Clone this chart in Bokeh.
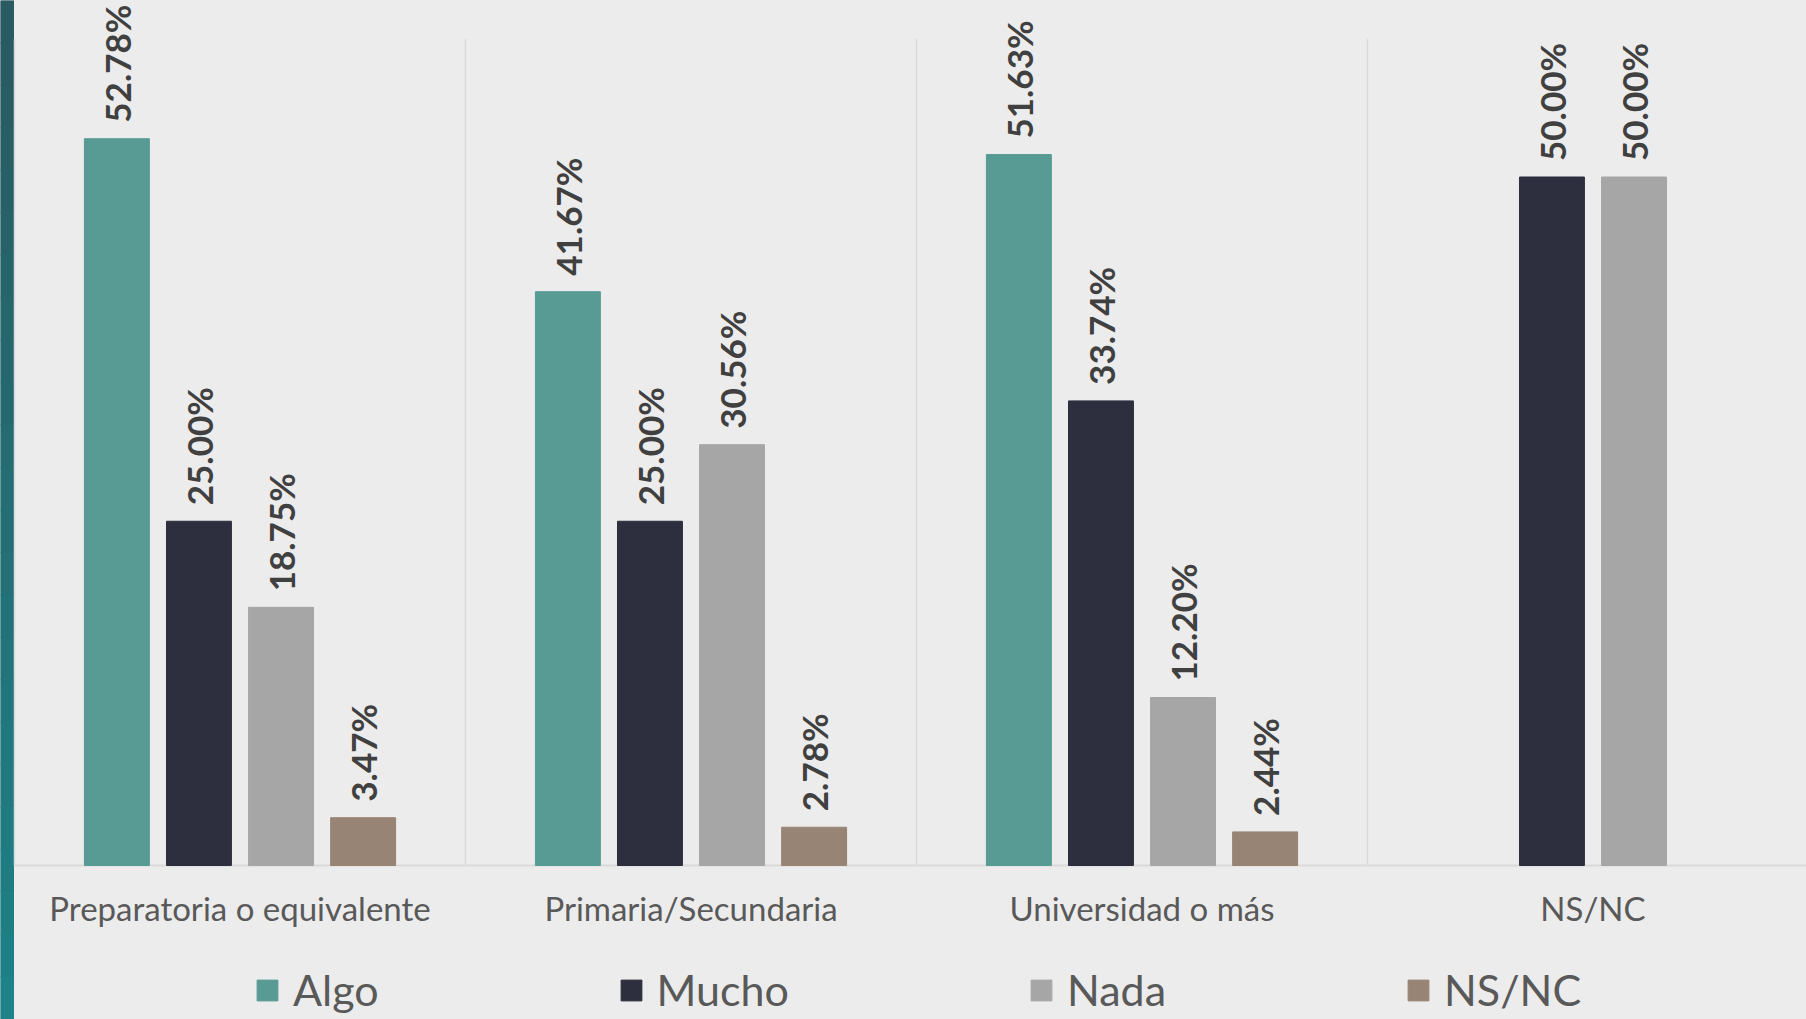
import numpy as np
from bokeh.plotting import figure
from bokeh.models import ColumnDataSource, FixedTicker, Range1d, GlobalInlineStyleSheet
from bokeh.core.properties import value
from bokeh.embed import file_html
from bokeh.resources import INLINE

# ---- data ----
categories = ["Preparatoria o equivalente", "Primaria/Secundaria", "Universidad o más", "NS/NC"]
series = ["Algo", "Mucho", "Nada", "NS/NC"]
algo = [52.78, 41.67, 51.63, np.nan]
mucho = [25.00, 25.00, 33.74, 50.00]
nada = [18.75, 30.56, 12.20, 50.00]
nsnc = [3.47, 2.78, 2.44, np.nan]
colors = ["#589a94", "#2d2f3e", "#a6a6a6", "#988474"]

W, H = 1806, 1019
px_per_unit_x = 451.0
px_per_pct = 13.77
left_px = 14.0
base_px = 865.0

x_start = -left_px / px_per_unit_x
x_end = (W - left_px) / px_per_unit_x
y_end = base_px / px_per_pct
y_start = -(H - base_px) / px_per_pct

p = figure(width=W, height=H, output_backend="svg", toolbar_location=None,
           x_range=Range1d(x_start, x_end), y_range=Range1d(y_start, y_end),
           min_border=0, min_border_left=0, min_border_right=0,
           min_border_top=0, min_border_bottom=0)
p.stylesheets = [GlobalInlineStyleSheet(css="html, body {margin:0 !important; padding:0; background:#ececec; overflow:hidden;}")]
p.background_fill_color = "#ececec"
p.border_fill_color = "#ececec"
p.outline_line_color = None
p.xgrid.visible = False
p.ygrid.visible = False
p.yaxis.visible = False

# left decorative strip (gradient)
n_bands = 24
edges = np.linspace(y_end, y_start, n_bands + 1)
c_top = np.array([0x2a, 0x5a, 0x62])
c_bot = np.array([0x1e, 0x82, 0x88])
band_cols = []
for i in range(n_bands):
    t = i / (n_bands - 1)
    c = (c_top * (1 - t) + c_bot * t).astype(int)
    band_cols.append("#%02x%02x%02x" % tuple(c))
p.quad(left=x_start, right=-1.0 / px_per_unit_x, top=edges[:-1], bottom=edges[1:],
       fill_color=band_cols, line_color=band_cols, line_width=1)

# vertical separators
grid_top = 60
p.segment(x0=[0, 1, 2, 3], y0=0, x1=[0, 1, 2, 3], y1=grid_top, line_color="#d9d9d9", line_width=1.5)

# baseline
p.segment(x0=[0], y0=[0], x1=[x_end], y1=[0], line_color="#d9d9d9", line_width=2)

width = 0.144
pitch = 0.182
offsets = [-1.5 * pitch, -0.5 * pitch, 0.5 * pitch, 1.5 * pitch]
centers = np.arange(len(categories)) + 0.5
all_vals = [algo, mucho, nada, nsnc]

for name, vals, col, off in zip(series, all_vals, colors, offsets):
    v = np.array(vals, dtype=float)
    xs = centers + off
    labels = ["" if np.isnan(a) else "%.2f%%" % a for a in v]
    src = ColumnDataSource(dict(x=xs, top=v, lab=labels, ty=np.nan_to_num(v)))
    p.vbar(x="x", top="top", bottom=0, width=width, source=src,
           fill_color=col, line_color=col, legend_label=name)
    p.text(x="x", y="ty", text="lab", source=src, angle=np.pi / 2,
           text_align="left", text_baseline="middle", y_offset=-16, x_offset=0,
           text_font=value("Lato"), text_font_style="bold", text_font_size="35px",
           text_color="#404040")

# x axis at baseline
ax = p.xaxis[0]
ax.fixed_location = 0
ax.ticker = FixedTicker(ticks=list(centers))
ax.major_label_overrides = {float(c): cat for c, cat in zip(centers, categories)}
ax.axis_line_color = None
ax.major_tick_line_color = None
ax.minor_tick_line_color = None
ax.major_label_text_font = "Lato"
ax.major_label_text_font_size = "33px"
ax.major_label_text_color = "#595959"
ax.major_label_standoff = 16

# legend
lg = p.legend[0]
lg.orientation = "horizontal"
lg.location = (254, 4)
lg.padding = 0
lg.margin = 0
lg.spacing = 239
lg.glyph_width = 26
lg.glyph_height = 26
lg.label_standoff = 13
lg.label_text_font = "Lato"
lg.label_text_font_size = "43px"
lg.label_text_color = "#595959"
lg.background_fill_alpha = 0
lg.border_line_alpha = 0

open("out.html", "w").write(file_html(p, INLINE))
